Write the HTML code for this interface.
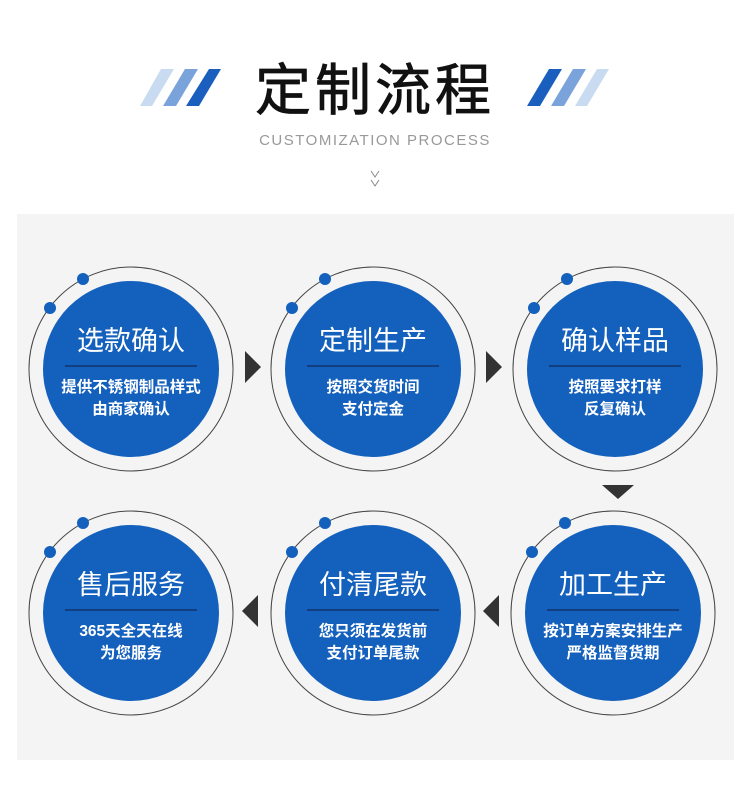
<!DOCTYPE html>
<html><head><meta charset="utf-8"><style>
body{margin:0;width:750px;height:796px;background:#fff;position:relative;overflow:hidden;font-family:"Liberation Sans","Noto Sans CJK SC",sans-serif}
</style></head><body>
<svg width="750" height="796" style="position:absolute;left:0;top:0">
<g>
<polygon points="161,69 174,69 152,106 140,106" fill="#c9dbf1"/>
<polygon points="185,69 198,69 176,106 163,106" fill="#7aa3db"/>
<polygon points="209,69 221,69 199,106 186,106" fill="#1a5fbe"/>
<polygon points="549,69 562,69 540,106 527,106" fill="#1a5fbe"/>
<polygon points="573,69 586,69 564,106 551,106" fill="#7aa3db"/>
<polygon points="597,69 609,69 587,106 575,106" fill="#c9dbf1"/>
</g>
<polyline points="371,171 375,177 379,171" fill="none" stroke="#888" stroke-width="1"/>
<polyline points="371,180 375,186 379,180" fill="none" stroke="#888" stroke-width="1"/>
<rect x="17" y="214" width="717" height="546" fill="#f4f4f4"/>
<polygon points="245,351 261,367 245,383" fill="#333"/>
<polygon points="486,351 502,367 486,383" fill="#333"/>
<polygon points="602,485 634,485 618,499" fill="#333"/>
<polygon points="499,595 483,611 499,627" fill="#333"/>
<polygon points="258,595 242,611 258,627" fill="#333"/>
<g fill="none" stroke="#444" stroke-width="1">
<circle cx="131" cy="369" r="102"/><circle cx="373" cy="369" r="102"/><circle cx="615" cy="369" r="102"/>
<circle cx="131" cy="613" r="102"/><circle cx="373" cy="613" r="102"/><circle cx="613" cy="613" r="102"/>
</g>
<g fill="#1460bd">
<circle cx="131" cy="369" r="88"/><circle cx="373" cy="369" r="88"/><circle cx="615" cy="369" r="88"/>
<circle cx="131" cy="613" r="88"/><circle cx="373" cy="613" r="88"/><circle cx="613" cy="613" r="88"/>
<circle cx="83" cy="279" r="6"/><circle cx="50" cy="308" r="6"/>
<circle cx="325" cy="279" r="6"/><circle cx="292" cy="308" r="6"/>
<circle cx="567" cy="279" r="6"/><circle cx="534" cy="308" r="6"/>
<circle cx="83" cy="523" r="6"/><circle cx="50" cy="552" r="6"/>
<circle cx="325" cy="523" r="6"/><circle cx="292" cy="552" r="6"/>
<circle cx="565" cy="523" r="6"/><circle cx="532" cy="552" r="6"/>
</g>
<g stroke="#0d2b5a" stroke-width="1.2">
<line x1="65" y1="366" x2="197" y2="366"/><line x1="307" y1="366" x2="439" y2="366"/><line x1="549" y1="366" x2="681" y2="366"/>
<line x1="65" y1="610" x2="197" y2="610"/><line x1="307" y1="610" x2="439" y2="610"/><line x1="547" y1="610" x2="679" y2="610"/>
</g>
<g fill="#fff" text-anchor="middle" font-family="Liberation Sans,Noto Sans CJK SC,sans-serif">
<g font-size="27"><text x="131" y="350">选款确认</text><text x="373" y="350">定制生产</text><text x="615" y="350">确认样品</text>
<text x="131" y="594">售后服务</text><text x="373" y="594">付清尾款</text><text x="613" y="594">加工生产</text></g>
<g font-size="15.5" font-weight="bold">
<text x="131" y="392">提供不锈钢制品样式</text><text x="131" y="414">由商家确认</text>
<text x="373" y="392">按照交货时间</text><text x="373" y="414">支付定金</text>
<text x="615" y="392">按照要求打样</text><text x="615" y="414">反复确认</text>
<text x="131" y="636">365天全天在线</text><text x="131" y="658">为您服务</text>
<text x="373" y="636">您只须在发货前</text><text x="373" y="658">支付订单尾款</text>
<text x="613" y="636">按订单方案安排生产</text><text x="613" y="658">严格监督货期</text>
</g></g>
<text x="375" y="110" text-anchor="middle" font-size="56" fill="#111" stroke="#111" stroke-width="0.8" font-family="Liberation Sans,Noto Sans CJK SC,sans-serif" letter-spacing="4">定制流程</text>
<text x="375" y="145" text-anchor="middle" font-size="15" fill="#999" font-family="Liberation Sans,sans-serif" letter-spacing="1.5">CUSTOMIZATION PROCESS</text>
</svg>
</body></html>
